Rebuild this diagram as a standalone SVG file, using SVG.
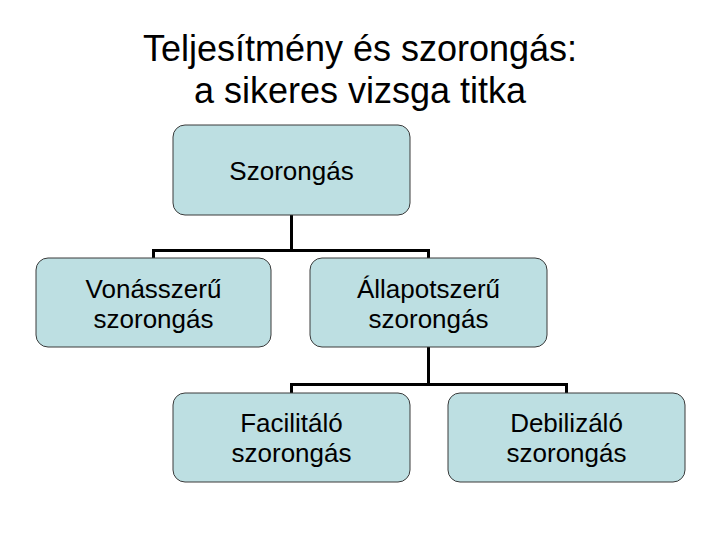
<svg xmlns="http://www.w3.org/2000/svg" width="720" height="540" viewBox="0 0 720 540">
<style>
.box{fill:#BDDFE2;stroke:#3a3a3a;stroke-width:1}
.lbl{font-family:"Liberation Sans",Arial,sans-serif;font-size:26px;fill:#000;text-anchor:middle}
.ttl{font-family:"Liberation Sans",Arial,sans-serif;font-size:36px;fill:#000;text-anchor:middle}
.con{fill:none;stroke:#000;stroke-width:3}
</style>
<rect width="720" height="540" fill="#fff"/>
<g id="title">
<text class="ttl" x="360" y="61">Teljesítmény és szorongás:</text>
<text class="ttl" x="360" y="103">a sikeres vizsga titka</text>
</g>
<g id="connectors">
<path class="con" d="M291.5 215 V250.5 M153.5 258 V250.5 H428.5 V258"/>
<path class="con" d="M428.5 347 V384.5 M291.5 393 V384.5 H566.5 V393"/>
</g>
<g id="szorongas">
<rect class="box" x="173" y="125" width="237" height="90" rx="12"/>
<text class="lbl" x="291.5" y="180">Szorongás</text>
</g>
<g id="vonasszeru">
<rect class="box" x="36" y="258" width="235" height="89" rx="12"/>
<text class="lbl" x="153.5" y="298">Vonásszerű</text>
<text class="lbl" x="153.5" y="328">szorongás</text>
</g>
<g id="allapotszeru">
<rect class="box" x="310" y="258" width="237" height="89" rx="12"/>
<text class="lbl" x="428.5" y="298">Állapotszerű</text>
<text class="lbl" x="428.5" y="328">szorongás</text>
</g>
<g id="facilitalo">
<rect class="box" x="173" y="393" width="237" height="89" rx="12"/>
<text class="lbl" x="291.5" y="432">Facilitáló</text>
<text class="lbl" x="291.5" y="462">szorongás</text>
</g>
<g id="debilizalo">
<rect class="box" x="448" y="393" width="237" height="89" rx="12"/>
<text class="lbl" x="566.5" y="432">Debilizáló</text>
<text class="lbl" x="566.5" y="462">szorongás</text>
</g>
</svg>
